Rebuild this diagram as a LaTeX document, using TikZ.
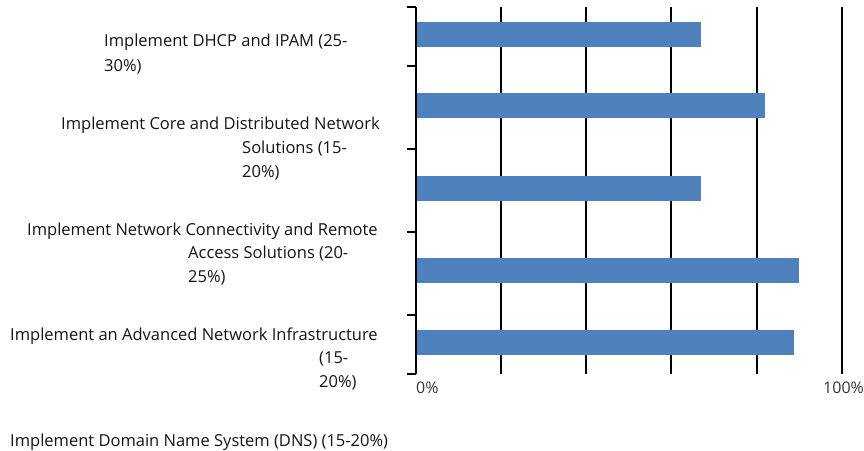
\documentclass[tikz,border=0pt]{standalone}
\usepackage{fontspec}
\setmainfont{Open Sans}
\definecolor{barblue}{HTML}{4F81BD}
\definecolor{labelgray}{HTML}{141414}
\definecolor{tickgray}{HTML}{333333}
\begin{document}
\begin{tikzpicture}[x=1pt,y=-1pt,
  lbl/.style={anchor=base west,inner sep=0pt,font=\fontsize{16.5}{20}\selectfont,text=labelgray},
  ticklbl/.style={anchor=base west,inner sep=0pt,font=\fontsize{16}{20}\selectfont,text=tickgray},
  bar/.style={fill=barblue},
  gridline/.style={line width=2pt}]
\useasboundingbox (0,0) rectangle (864,450);
% grid and axis
\foreach \x in {500.7,585.7,670.7,757,842}
  \draw[gridline] (\x,7) -- (\x,374);
\draw[gridline] (415.7,7) -- (415.7,374);
\foreach \y in {7,66,149,232,315,374}
  \draw[gridline] (406.7,\y) -- (415.7,\y);
% bars
\fill[bar] (416.7,22) rectangle (701,47);
\fill[bar] (416.7,93) rectangle (765,117.7);
\fill[bar] (416.7,176) rectangle (701,200.7);
\fill[bar] (416.7,258) rectangle (799,282.7);
\fill[bar] (416.7,330) rectangle (794,354.7);
% axis labels
\node[ticklbl] (zero) at (416,393) {0\%};
\node[ticklbl] (hundred) at (823,393) {100\%};
% category labels
\node[lbl] (dhcpa) at (104,46.7) {Implement DHCP and IPAM (25-};
\node[lbl] (dhcpb) at (104,71) {30\%)};
\node[lbl] (corea) at (61,129) {Implement Core and Distributed Network};
\node[lbl] (coreb) at (242,153) {Solutions (15-};
\node[lbl] (corec) at (242,177) {20\%)};
\node[lbl] (conna) at (27,235) {Implement Network Connectivity and Remote};
\node[lbl] (connb) at (188,258) {Access Solutions (20-};
\node[lbl] (connc) at (188,282) {25\%)};
\node[lbl] (infra) at (10,340) {Implement an Advanced Network Infrastructure};
\node[lbl] (infrb) at (319,363) {(15-};
\node[lbl] (infrc) at (319,387) {20\%)};
\node[lbl] (dns) at (10,446) {Implement Domain Name System (DNS) (15-20\%)};
\end{tikzpicture}
\end{document}
